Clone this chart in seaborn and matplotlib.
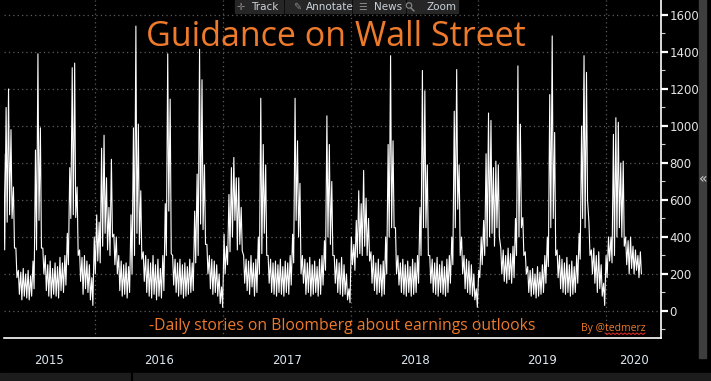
import matplotlib.pyplot as plt
import matplotlib.dates as mdates
from matplotlib.patches import Rectangle, Ellipse
from matplotlib.lines import Line2D
from matplotlib.ticker import MultipleLocator
import numpy as np
import pandas as pd
import seaborn as sns

# Weekly readings (weekday high / weekend low) of daily story counts
week_start = '2015-04-13'
week_high = [
    # 2015 (from mid April)
    850, 1100, 1200, 980, 670, 340, 220, 210, 230, 200, 220, 190, 270, 870,
    1390, 990, 340, 300, 250, 270, 230, 260, 240, 290, 260, 300, 420, 775,
    1315, 1340, 670, 330, 290, 300, 270, 250, 180,
    # 2016
    400, 520, 480, 880, 950, 720, 560, 820, 415, 400, 300, 270, 250, 260,
    240, 520, 990, 1540, 1010, 650, 320, 300, 280, 260, 300, 250, 280, 230,
    300, 580, 1390, 1145, 300, 280, 260, 280, 250, 260, 240, 280, 260, 540,
    740, 1415, 1250, 790, 360, 300, 280, 270, 250, 200, 130,
    # 2017
    415, 350, 630, 775, 830, 720, 720, 560, 300, 280, 270, 300, 260, 280,
    400, 1150, 900, 790, 300, 280, 260, 270, 250, 280, 240, 270, 260, 300,
    415, 1150, 920, 690, 300, 280, 260, 290, 250, 270, 240, 280, 300, 380,
    1055, 900, 700, 300, 280, 260, 290, 250, 200, 120,
    # 2018
    400, 360, 490, 650, 580, 760, 610, 500, 320, 300, 260, 280, 250, 270,
    400, 900, 1380, 920, 450, 300, 260, 280, 250, 270, 240, 280, 260, 300,
    560, 1300, 1190, 790, 300, 280, 260, 290, 250, 270, 240, 280, 300, 400,
    1080, 1305, 790, 400, 300, 280, 270, 250, 200, 120,
    # 2019
    220, 400, 490, 850, 1070, 1030, 775, 810, 790, 340, 330, 300, 340, 310,
    350, 500, 1325, 1010, 505, 320, 240, 220, 230, 200, 240, 210, 250, 300,
    400, 1170, 1487, 965, 330, 300, 280, 260, 290, 250, 270, 240, 300, 420,
    1000, 1380, 1290, 480, 330, 340, 300, 320, 250, 150,
    # 2020 (to mid April)
    300, 400, 400, 955, 1045, 1020, 800, 810, 400, 380, 400, 350, 330, 300, 320,
]
week_low = [
    # 2015
    330, 480, 520, 500, 340, 180, 90, 60, 80, 70, 60, 80, 120, 330,
    490, 340, 200, 110, 80, 70, 90, 80, 70, 110, 100, 140, 250, 500,
    520, 505, 300, 160, 90, 120, 100, 60, 30,
    # 2016
    200, 270, 260, 350, 420, 330, 300, 400, 250, 200, 110, 80, 90, 70,
    100, 200, 300, 420, 360, 280, 160, 100, 80, 70, 90, 60, 80, 70,
    110, 300, 540, 310, 140, 100, 80, 90, 70, 80, 90, 100, 110, 260,
    300, 470, 440, 360, 200, 120, 90, 100, 80, 40, 20,
    # 2017
    200, 250, 320, 400, 490, 330, 360, 325, 150, 110, 90, 130, 80, 100,
    200, 310, 420, 300, 150, 100, 90, 80, 100, 90, 80, 100, 90, 140,
    260, 490, 400, 200, 150, 90, 100, 80, 90, 100, 80, 90, 140, 220,
    400, 360, 300, 150, 100, 90, 80, 90, 60, 45,
    # 2018
    250, 220, 290, 310, 300, 350, 300, 270, 150, 110, 90, 100, 80, 90,
    200, 400, 450, 450, 200, 140, 100, 90, 80, 100, 80, 90, 100, 150,
    300, 450, 450, 300, 150, 100, 90, 80, 100, 90, 80, 100, 150, 250,
    450, 550, 300, 200, 120, 100, 90, 80, 60, 20,
    # 2019
    180, 250, 300, 350, 400, 420, 350, 450, 400, 200, 160, 150, 170, 150,
    180, 300, 400, 450, 300, 200, 100, 80, 90, 70, 80, 90, 100, 150,
    240, 450, 500, 300, 180, 120, 100, 90, 100, 80, 90, 100, 150, 280,
    500, 450, 600, 300, 200, 150, 100, 120, 80, 30,
    # 2020
    180, 270, 260, 300, 400, 450, 400, 350, 250, 200, 230, 200, 220, 180, 200,
]
years = ['2015', '2016', '2017', '2018', '2019', '2020']
y_ticks = [0, 200, 400, 600, 800, 1000, 1200, 1400, 1600]

title = 'Guidance on Wall Street'
subtitle = '-Daily stories on Bloomberg about earnings outlooks'
credit = 'By @tedmerz'
buttons = ['Track', 'Annotate', 'News', 'Zoom']
button_icons = ['\u271b', '\u270e', '\u2630', '']

orange = '#ee7a2c'

# interleave the weekly high (mid-week) and low (weekend) readings
weeks = pd.date_range(week_start, periods=len(week_high), freq='7D')
dates, values = [], []
for d, h, l in zip(weeks, week_high, week_low):
    dates += [d + pd.Timedelta(days=2), d + pd.Timedelta(days=5)]
    values += [h, l]
df = pd.DataFrame({'date': dates, 'stories': values})

sns.set_style('dark')
plt.rcParams['font.family'] = ['DejaVu Sans']

W, H = 711, 381
fig = plt.figure(figsize=(W / 100, H / 100), dpi=100, facecolor='black')


def fx(x):
    return np.asarray(x) / W


def fy(y):
    return 1 - np.asarray(y) / H


ax = fig.add_axes([fx(4), fy(338), fx(657), 338 / H])
ax.set_facecolor('black')

sns.lineplot(data=df, x='date', y='stories', color='white', linewidth=0.8, ax=ax)

x0, x1 = pd.Timestamp('2015-04-16'), pd.Timestamp('2020-06-06')
ax.set_xlim(x0, x1)
ax.set_ylim(-146, 1681)
ax.set_xlabel('')
ax.set_ylabel('')

# y axis on the right
ax.yaxis.tick_right()
ax.set_yticks(y_ticks)
ax.yaxis.set_minor_locator(MultipleLocator(100))
ax.tick_params(axis='y', which='major', colors='white', labelcolor='#e4e4e4',
               length=5, width=1.6, labelsize=8.5, pad=1)
ax.tick_params(axis='y', which='minor', colors='#cfcfcf', length=3, width=0.8)

# x axis: year separators + quarter ticks
ax.xaxis.set_major_locator(mdates.YearLocator())
ax.xaxis.set_minor_locator(mdates.MonthLocator(bymonth=[4, 7, 10]))
ax.xaxis.set_major_formatter(plt.NullFormatter())
ax.tick_params(axis='x', which='major', direction='out', length=21, width=1.6, colors='#7a7a7a')
ax.tick_params(axis='x', which='minor', direction='in', length=3, width=0.8, colors='#cfcfcf')

ax.grid(True, which='major', color='#5c5c5c', linestyle=(0, (1, 2.5)), linewidth=0.9)

for side in ['left', 'top']:
    ax.spines[side].set_visible(False)
for side in ['right', 'bottom']:
    ax.spines[side].set_color('white')
    ax.spines[side].set_linewidth(1.2)

# year labels centred in the visible part of each year
trans = ax.get_xaxis_transform()
for yr in years:
    a = max(pd.Timestamp(yr + '-01-01'), x0)
    b = min(pd.Timestamp(str(int(yr) + 1) + '-01-01'), x1)
    mid = a + (b - a) / 2
    ax.text(mid, -0.067, yr, transform=trans, ha='center', va='center',
            color='#dce6ef', fontsize=8.5)

# titles
fig.text(fx(336), fy(37), title, color=orange, fontsize=24.5, family='Open Sans',
         ha='center', va='center')
fig.text(fx(342), fy(326), subtitle, color=orange, fontsize=11.3, family='Open Sans',
         ha='center', va='center')
fig.text(fx(613), fy(328), credit, color=orange, fontsize=7.5, family='Open Sans',
         ha='center', va='center')
zz = np.arange(605, 647, 2)
fig.add_artist(Line2D(fx(zz), fy(333 + (np.arange(len(zz)) % 2) * 1.5),
                      color='#d42a2a', linewidth=0.8))

# toolbar
edges = [(235, 283), (285, 351), (353, 405), (407, 458)]
icon_x = [241, 297, 363, 409]
text_x = [251, 306, 374, 427]
for (a, b), name, icon, ix, tx in zip(edges, buttons, button_icons, icon_x, text_x):
    fig.add_artist(Rectangle((fx(a), fy(13)), fx(b - a), 13 / H, color='#262626'))
    if icon:
        fig.text(fx(ix), fy(6.5), icon, color='#8a8a8a', fontsize=7, ha='center', va='center')
    fig.text(fx(tx), fy(6.5), name, color='#c9d2da', fontsize=7.5, ha='left', va='center')
# magnifier glyph for the Zoom button
fig.add_artist(Ellipse((fx(409), fy(5.5)), fx(5.5), 5.5 / H, fill=False,
                       edgecolor='#8a8a8a', linewidth=0.8))
fig.add_artist(Line2D(fx([411, 414]), fy([8, 11]), color='#8a8a8a', linewidth=1))

# right side panel and bottom bar
fig.add_artist(Rectangle((fx(699), fy(358)), fx(7), 358 / H, color='#3e3e3e'))
fig.text(fx(703), fy(179), '\u00ab', color='#d0d0d0', fontsize=10, ha='center', va='center')
fig.add_artist(Rectangle((0, 0), 1, 8 / H, color='#1c1c1c'))
fig.add_artist(Line2D(fx([132, 132]), [0, 8 / H], color='black', linewidth=1.5))

fig.savefig('out.png', dpi=100, facecolor='black')
